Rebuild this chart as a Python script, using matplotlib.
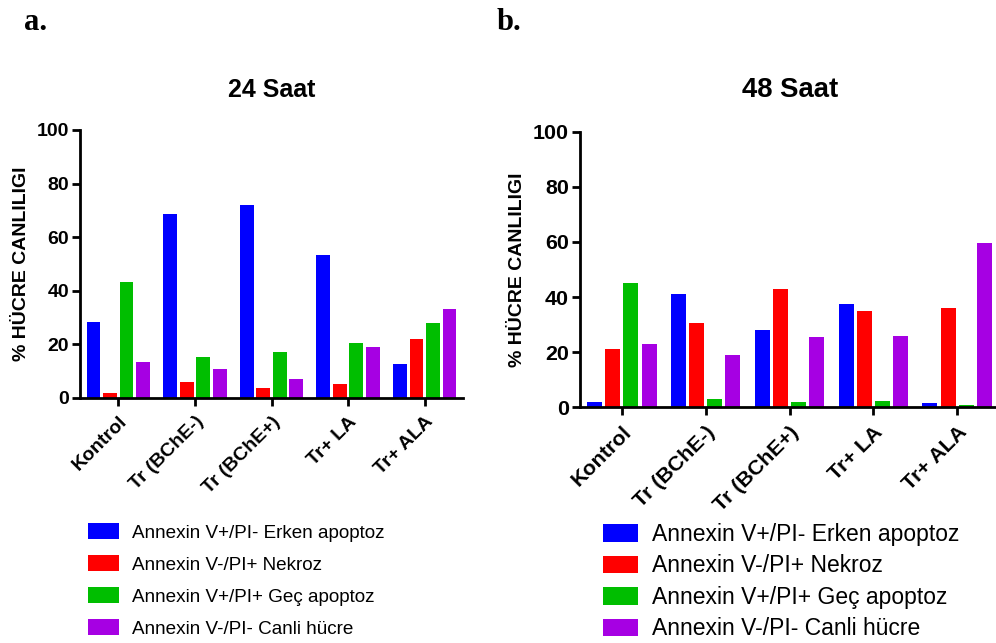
import numpy as np
import matplotlib
matplotlib.use("Agg")
import matplotlib.pyplot as plt

plt.rcParams['font.family'] = ['Liberation Sans', 'DejaVu Sans']

# data
groups = ["Kontrol", "Tr (BChE-)", "Tr (BChE+)", "Tr+ LA", "Tr+ ALA"]
series = ["Annexin V+/PI- Erken apoptoz", "Annexin V-/PI+ Nekroz",
          "Annexin V+/PI+ Geç apoptoz", "Annexin V-/PI- Canli hücre"]
colors = ["#0000FF", "#FF0000", "#00BE00", "#A600E3"]

erken_24 = [28.5, 68.7, 72.0, 53.4, 12.6]
nekroz_24 = [1.7, 5.9, 3.6, 5.2, 22.0]
gec_24 = [43.4, 15.2, 17.3, 20.6, 27.9]
canli_24 = [13.5, 10.8, 7.0, 18.9, 33.2]

erken_48 = [1.8, 41.0, 28.0, 37.5, 1.5]
nekroz_48 = [21.0, 30.5, 42.9, 35.0, 36.1]
gec_48 = [45.0, 2.9, 2.0, 2.3, 0.8]
canli_48 = [22.9, 19.0, 25.4, 26.0, 59.7]

fig = plt.figure(figsize=(9.96, 6.43), dpi=100)
W, H = 996, 643


def px_axes(x0, y0, x1, y1):
    return fig.add_axes([x0 / W, 1 - y1 / H, (x1 - x0) / W, (y1 - y0) / H])


def draw_panel(ax, values, scale, title, tx, ty, leg):
    x = np.arange(len(groups))
    pitch = 0.216
    width = 0.18
    handles = []
    for i, (vals, c) in enumerate(zip(values, colors)):
        b = ax.bar(x + (i - 1.5) * pitch, vals, width, color=c, label=series[i])
        handles.append(b)
    ax.set_xlim(-0.5, 4.5)
    ax.set_ylim(0, 100)
    ax.set_yticks([0, 20, 40, 60, 80, 100])
    ax.set_xticks(x)
    ax.set_xticklabels(groups, rotation=45, ha="right", rotation_mode="anchor",
                       fontsize=14 * scale, fontweight="bold")
    for lab in ax.get_yticklabels():
        lab.set_fontsize(14 * scale)
        lab.set_fontweight("bold")
    ax.spines["top"].set_visible(False)
    ax.spines["right"].set_visible(False)
    ax.spines["left"].set_linewidth(2)
    ax.spines["bottom"].set_linewidth(2)
    ax.tick_params(axis="both", width=2, length=6, pad=2)
    ax.tick_params(axis="x", pad=5)
    ax.set_ylabel("% HÜCRE CANLILIGI", fontsize=14, fontweight="bold")
    ax.yaxis.set_label_coords(-0.13, 0.5)
    fig.text(tx / W, 1 - ty / H, title, ha="center", va="center",
             fontsize=18 * scale, fontweight="bold")
    lx, ly, fs, hl, hh, tp, ls = leg
    ax.legend(handles=handles, loc="upper left",
              bbox_to_anchor=(lx / W, 1 - ly / H),
              bbox_transform=fig.transFigure, frameon=False,
              borderpad=0, borderaxespad=0,
              handlelength=hl, handleheight=hh, handletextpad=tp,
              labelspacing=ls, fontsize=fs)


ax1 = px_axes(80, 130, 463, 398)
draw_panel(ax1, [erken_24, nekroz_24, gec_24, canli_24], 1.0,
           "24 Saat", 272, 90, (88, 523, 13.6, 1.64, 0.95, 0.69, 0.71))

ax2 = px_axes(580, 131.7, 999, 407.3)
draw_panel(ax2, [erken_48, nekroz_48, gec_48, canli_48], 1.1,
           "48 Saat", 790, 90, (603, 523, 16.5, 1.53, 0.81, 0.61, 0.37))

fig.text(24 / W, 1 - 30 / H, "a.", fontsize=22, fontweight="bold",
         family="Liberation Serif", ha="left", va="baseline")
fig.text(497 / W, 1 - 30 / H, "b.", fontsize=22, fontweight="bold",
         family="Liberation Serif", ha="left", va="baseline")

fig.savefig("out.png", dpi=100)
